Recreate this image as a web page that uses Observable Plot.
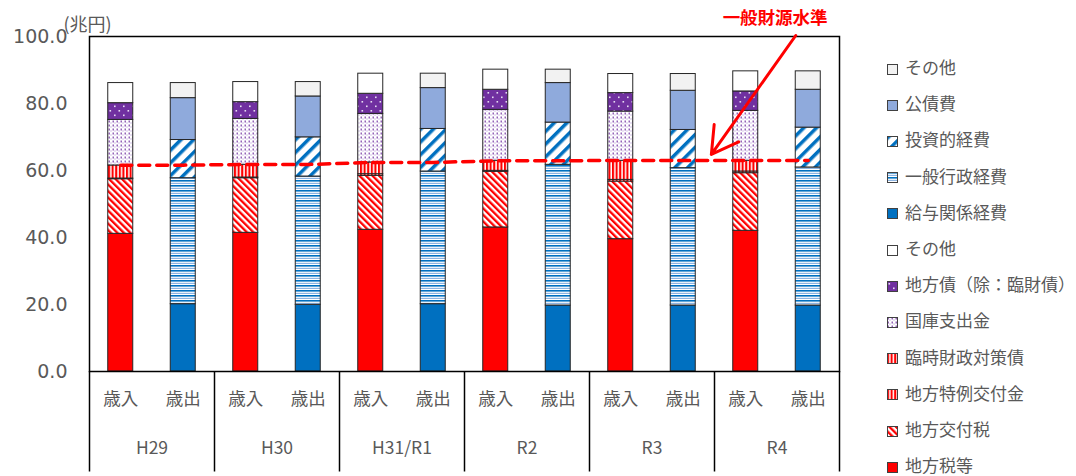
<!DOCTYPE html>
<html lang="ja">
<head>
<meta charset="utf-8">
<script src="https://cdn.jsdelivr.net/npm/d3@7"></script>
<script src="https://cdn.jsdelivr.net/npm/@observablehq/plot@0.6"></script>
<style>
  body { margin: 0; background: #fff; }
  #wrap { position: relative; width: 1076px; height: 476px; overflow: hidden; background: #fff;
          font-family: "Noto Sans CJK JP", "Noto Sans", sans-serif; }
  #chart { position: absolute; left: 0; top: 0; }
  #legend { position: absolute; left: 887px; top: 0; width: 189px; }
  .item { position: absolute; left: 0; height: 24px; display: flex; align-items: center;
          white-space: nowrap; font-size: 17px; color: #595959; }
  .item svg { margin-right: 7px; margin-top: 5px; flex: none; }
</style>
</head>
<body>
<div id="wrap">
  <div id="chart"></div>
  <div id="legend"></div>
</div>
<script>
// 年度と区分
const years = ["H29", "H30", "H31/R1", "R2", "R3", "R4"];
const sides = ["歳入", "歳出"];
const yTicks = [0, 20, 40, 60, 80, 100];

// 歳入（兆円）
const localTax        = [41.1, 41.4, 42.3, 43.0, 39.5, 42.0]; // 地方税等
const allocationTax   = [16.3, 16.3, 16.1, 16.6, 17.2, 17.2]; // 地方交付税
const specialGrant    = [0.2, 0.2, 0.5, 0.3, 0.5, 0.5];       // 地方特例交付金
const tempFinanceBond = [3.9, 3.8, 3.5, 3.0, 5.7, 3.2];       // 臨時財政対策債
const treasuryGrant   = [13.6, 13.7, 14.5, 15.2, 14.7, 14.9]; // 国庫支出金
const localBond       = [5.0, 5.0, 6.0, 6.0, 5.5, 5.8];       // 地方債（除：臨財債）
const revenueOther    = [6.0, 6.0, 6.0, 6.0, 5.7, 6.0];       // その他

// 歳出（兆円）
const salaries        = [20.1, 19.9, 20.1, 19.7, 19.7, 19.7]; // 給与関係経費
const adminCosts      = [37.6, 38.3, 39.6, 42.0, 41.0, 41.2]; // 一般行政経費
const investment      = [11.4, 11.7, 12.7, 12.6, 11.4, 11.9]; // 投資的経費
const debtService     = [12.5, 12.2, 12.2, 11.8, 11.7, 11.3]; // 公債費
const expenseOther    = [4.5, 4.3, 4.3, 4.0, 5.0, 5.5];       // その他

// 一般財源水準（兆円）
const generalRevenue  = [61.6, 61.8, 62.4, 62.9, 63.0, 63.0];

// 系列（積み上げ順：下から上）
const revenueSeries = [
  {name: "地方税等",            values: localTax,        fill: "#ff0000"},
  {name: "地方交付税",          values: allocationTax,   fill: "url(#p-grant)"},
  {name: "地方特例交付金",      values: specialGrant,    fill: "url(#p-vstripe)"},
  {name: "臨時財政対策債",      values: tempFinanceBond, fill: "url(#p-vstripe)"},
  {name: "国庫支出金",          values: treasuryGrant,   fill: "url(#p-dots)"},
  {name: "地方債（除：臨財債）", values: localBond,       fill: "url(#p-bond)"},
  {name: "その他",              values: revenueOther,    fill: "#ffffff"}
];
const expenseSeries = [
  {name: "給与関係経費", values: salaries,    fill: "#0070c0"},
  {name: "一般行政経費", values: adminCosts,  fill: "url(#p-hstripe)"},
  {name: "投資的経費",   values: investment,  fill: "url(#p-invest)"},
  {name: "公債費",       values: debtService, fill: "#8faadc"},
  {name: "その他",       values: expenseOther, fill: "#f2f2f2"}
];

// 棒ごとの積み上げ区間を作る（x は 0〜11 の棒の位置）
function stackRows(side, seriesList) {
  const out = [];
  const offset = sides.indexOf(side);
  years.forEach((year, yi) => {
    let base = 0;
    for (const s of seriesList) {
      out.push({series: s, side, year, pos: yi * 2 + offset, y1: base, y2: base + s.values[yi]});
      base += s.values[yi];
    }
  });
  return out;
}
const segments = [...stackRows("歳入", revenueSeries), ...stackRows("歳出", expenseSeries)];

const barSlots = years.flatMap((year, yi) => sides.map((side, si) => ({year, side, pos: yi * 2 + si})));
const levelPoints = barSlots.map(d => ({pos: d.pos, level: generalRevenue[years.indexOf(d.year)]}));

// 注記「一般財源水準」と矢印（棒位置・値の座標）
const note = {text: "一般財源水準", x: 10.47, y: 105.3, fromX: 10.8, fromY: 100.3, toX: 9.45, toY: 64.8};

const halfBar = 0.2;
const labelGray = "#595959";
const cjk = "Noto Sans CJK JP";

// 塗りパターン
function patternDefs() {
  const g = d3.create("svg:g");
  const defs = g.append("defs");
  const pat = (id, w, h, transform) => defs.append("pattern")
    .attr("id", id).attr("patternUnits", "userSpaceOnUse")
    .attr("width", w).attr("height", h)
    .attr("patternTransform", transform || null);

  let p = pat("p-grant", 4.6, 4.6, "rotate(-45)");
  p.append("rect").attr("width", 4.6).attr("height", 4.6).attr("fill", "#fff");
  p.append("rect").attr("width", 2.3).attr("height", 4.6).attr("fill", "#ff0000");

  p = pat("p-vstripe", 3.6, 10);
  p.append("rect").attr("width", 3.6).attr("height", 10).attr("fill", "#fff");
  p.append("rect").attr("width", 2.1).attr("height", 10).attr("fill", "#ff0000");

  p = pat("p-dots", 4, 4);
  p.append("rect").attr("width", 4).attr("height", 4).attr("fill", "#fff");
  p.append("rect").attr("x", 0.5).attr("y", 0.5).attr("width", 1.5).attr("height", 2).attr("fill", "#7030a0").attr("opacity", 0.75);
  p.append("rect").attr("x", 2.5).attr("y", 2.5).attr("width", 1).attr("height", 1).attr("fill", "#a886d0");

  p = pat("p-bond", 9, 9);
  p.append("rect").attr("width", 9).attr("height", 9).attr("fill", "#7030a0");
  p.append("rect").attr("x", 1.5).attr("y", 2).attr("width", 1.6).attr("height", 1.6).attr("fill", "#e6dcf2");
  p.append("rect").attr("x", 6).attr("y", 6.5).attr("width", 1.6).attr("height", 1.6).attr("fill", "#e6dcf2");

  p = pat("p-hstripe", 10, 5);
  p.append("rect").attr("width", 10).attr("height", 5).attr("fill", "#fff");
  p.append("rect").attr("width", 10).attr("height", 1.6).attr("fill", "#0070c0");
  p.append("rect").attr("y", 2.8).attr("width", 10).attr("height", 1.2).attr("fill", "#8db4e2");

  p = pat("p-invest", 9, 9, "rotate(45)");
  p.append("rect").attr("width", 9).attr("height", 9).attr("fill", "#fff");
  p.append("rect").attr("width", 3.5).attr("height", 9).attr("fill", "#0070c0");

  return g.node();
}

const allSeries = [...revenueSeries, ...expenseSeries];
const barMarks = allSeries.map(s => Plot.rect(segments.filter(d => d.series === s), {
  x1: d => d.pos - halfBar,
  x2: d => d.pos + halfBar,
  y1: "y1",
  y2: "y2",
  fill: s.fill,
  stroke: "#262626",
  strokeWidth: 1
}));

const chart = Plot.plot({
  width: 860,
  height: 476,
  marginLeft: 89,
  marginRight: 21,
  marginTop: 36,
  marginBottom: 105,
  x: {domain: [-0.5, 11.5], axis: null},
  y: {domain: [0, 100], axis: null},
  style: {fontFamily: cjk, background: "transparent", overflow: "visible"},
  marks: [
    patternDefs,
    ...barMarks,
    Plot.frame({stroke: "#000", strokeWidth: 1.5}),
    Plot.axisY({
      ticks: yTicks, tickSize: 0, tickPadding: 22, tickFormat: d3.format(".1f"),
      fontSize: 19, fontFamily: "DejaVu Sans", color: labelGray, label: null
    }),
    Plot.text(["(兆円)"], {frameAnchor: "top-left", text: d => d, textAnchor: "middle",
      dx: -2, dy: -18, fontSize: 18, fill: labelGray}),
    // 区分軸：歳入・歳出、年度、区切り線
    Plot.text(barSlots, {x: "pos", text: "side", frameAnchor: "bottom", dy: 33,
      fontSize: 17.5, fill: labelGray}),
    Plot.text(years, {x: (d, i) => i * 2 + 0.5, text: d => d, frameAnchor: "bottom", dy: 82,
      fontSize: 17.5, fill: labelGray}),
    Plot.ruleX(d3.range(years.length + 1).map(i => i * 2 - 0.5), {y1: 0, y2: -30,
      stroke: "#000", strokeWidth: 1.5}),
    // 一般財源水準
    Plot.lineY(levelPoints, {x: "pos", y: "level", stroke: "#ff0000", strokeWidth: 3.5,
      strokeDasharray: "11,7"}),
    Plot.arrow([note], {x1: "fromX", y1: "fromY", x2: "toX", y2: "toY",
      stroke: "#ff0000", strokeWidth: 3, headLength: 15}),
    Plot.text([note], {x: "x", y: "y", text: "text", fill: "#ff0000", fontSize: 17.5,
      fontWeight: "bold"})
  ]
});
document.getElementById("chart").append(chart);

// 凡例（上から：歳出の上位系列 → 歳入の上位系列）
const legendItems = [...expenseSeries].reverse().concat([...revenueSeries].reverse());
const legend = d3.select("#legend");
legendItems.forEach((s, i) => {
  const item = legend.append("div").attr("class", "item").style("top", (66.5 + 36.2 * i - 12) + "px");
  const sw = item.append("svg").attr("width", 11).attr("height", 11);
  sw.append("rect").attr("x", 0.5).attr("y", 0.5).attr("width", 10).attr("height", 10)
    .attr("fill", s.fill).attr("stroke", "#404040").attr("stroke-width", 1);
  item.append("span").text(s.name);
});
</script>
</body>
</html>
